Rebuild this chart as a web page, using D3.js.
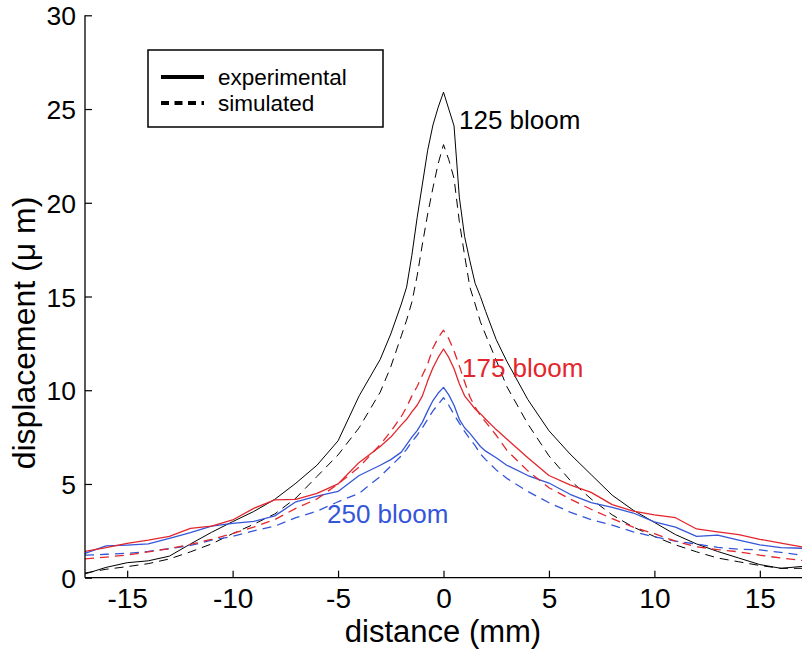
<!DOCTYPE html>
<html><head><meta charset="utf-8">
<script src="https://cdn.jsdelivr.net/npm/d3@7"></script>
<style>body{margin:0;background:#fff}svg{display:block}text{font-family:"Liberation Sans",Arial,sans-serif}</style>
</head><body><svg id="c" width="808" height="661"></svg>
<script>
const distance = [-17,-16,-15,-14,-13,-12,-11,-10,-9,-8,-7,-6,-5,-4,-3,-2.5,-2,-1.75,-1.5,-1.25,-1,-0.75,-0.5,-0.25,0,0.25,0.5,0.75,1,1.25,1.5,1.75,2,2.5,3,4,5,6,7,8,9,10,11,12,13,14,15,16,17];
const exp125 = [0.2,0.55,0.8,0.9,1.15,1.8,2.42,2.99,3.53,4.18,5.04,6.0,7.3,9.7,11.65,13.0,14.6,15.5,17.2,19.2,21.0,22.8,24.15,25.1,25.9,25.0,24.1,20.3,18.2,16.9,15.7,15.0,14.2,12.7,11.55,9.5,7.84,6.6,5.5,4.4,3.6,2.95,2.3,1.8,1.4,1.05,0.7,0.5,0.6];
const sim125 = [0.25,0.45,0.59,0.75,1.0,1.38,1.8,2.35,2.85,3.4,4.25,5.4,6.55,8.0,9.9,11.25,12.9,13.74,14.7,16.1,17.8,19.4,20.8,22.1,23.1,22.3,21.3,19.0,17.2,15.5,14.6,13.65,12.95,11.6,10.2,8.2,6.5,5.2,4.2,3.35,2.7,2.2,1.75,1.38,1.05,0.85,0.65,0.5,0.5];
const exp175 = [1.4,1.6,1.83,2.0,2.2,2.63,2.75,3.08,3.7,4.15,4.18,4.5,5.0,6.15,7.0,7.5,8.15,8.45,8.85,9.2,9.7,10.5,11.2,11.75,12.2,11.75,11.15,10.35,9.7,9.35,9.0,8.75,8.45,7.9,7.4,6.4,5.45,4.95,4.55,3.9,3.55,3.35,3.2,2.6,2.45,2.3,2.05,1.85,1.65];
const sim175 = [1.0,1.1,1.21,1.38,1.55,1.78,2.05,2.35,2.7,3.1,3.7,4.2,5.0,5.9,7.1,7.8,8.6,9.1,9.7,10.2,10.8,11.4,12.25,12.8,13.2,12.75,12.1,11.3,10.45,9.65,9.1,8.65,8.3,7.6,6.8,5.7,4.8,4.2,3.65,3.15,2.7,2.35,1.95,1.65,1.5,1.38,1.2,1.05,0.92];
const exp250 = [1.3,1.7,1.74,1.8,2.1,2.4,2.75,2.9,3.0,3.3,4.05,4.35,4.6,5.45,6.0,6.3,6.7,7.1,7.5,7.85,8.3,8.9,9.45,9.85,10.15,9.75,9.2,8.45,8.0,7.7,7.35,7.0,6.75,6.4,6.0,5.45,5.05,4.45,4.0,3.75,3.45,2.98,2.7,2.2,2.27,2.0,1.75,1.6,1.57];
const sim250 = [1.2,1.25,1.3,1.4,1.55,1.72,2.0,2.2,2.5,2.75,3.2,3.55,4.05,4.5,5.4,5.95,6.5,6.85,7.25,7.6,8.0,8.45,8.9,9.25,9.6,9.2,8.7,8.25,7.8,7.4,7.05,6.6,6.3,5.75,5.3,4.6,4.0,3.5,3.1,2.8,2.45,2.18,1.95,1.8,1.62,1.52,1.48,1.35,1.2];
const xTicks = [-15,-10,-5,0,5,10,15];
const yTicks = [0,5,10,15,20,25,30];
const seriesNames = ["125 bloom","175 bloom","250 bloom"];
const legendLabels = ["experimental","simulated"];

const svg = d3.select("#c");
const x = d3.scaleLinear().domain([-17,17]).range([85,802]);
const y = d3.scaleLinear().domain([0,30]).range([577.7,15.3]);

const series = [
  {v:sim125, c:"#000", dash:true, w:1},
  {v:exp125, c:"#000", dash:false, w:1},
  {v:sim250, c:"#3456d8", dash:true, w:1.3},
  {v:exp250, c:"#3456d8", dash:false, w:1.3},
  {v:sim175, c:"#e4262c", dash:true, w:1.3},
  {v:exp175, c:"#e4262c", dash:false, w:1.3}
];
const line = d3.line().x((d,i)=>x(distance[i])).y(d=>y(d));
svg.append("g").selectAll("path").data(series).join("path")
  .attr("d", d=>line(d.v)).attr("fill","none")
  .attr("stroke", d=>d.c).attr("stroke-width", d=>d.w)
  .attr("stroke-linejoin","round")
  .attr("stroke-dasharray", d=>d.dash?"9,6":null);

// axes
const gx = svg.append("g").attr("transform","translate(0,577.7)")
  .call(d3.axisBottom(x).tickValues(xTicks).tickSize(-7).tickPadding(10).tickFormat(d3.format("d")));
const gy = svg.append("g").attr("transform","translate(85,0)")
  .call(d3.axisLeft(y).tickValues(yTicks).tickSize(-7).tickPadding(9).tickFormat(d3.format("d")));
[gx,gy].forEach(g=>{
  g.select(".domain").attr("stroke","#000").attr("stroke-width",1.3).attr("d", g===gx ? "M85,0H802" : "M0,577.7V15.3");
  g.selectAll(".tick line").attr("stroke","#000").attr("stroke-width",1.2);
  g.selectAll("text").attr("fill","#000").attr("font-family","Liberation Sans, Arial, sans-serif");
});
gx.selectAll("text").attr("font-size",28).attr("dy","0.71em");
gy.selectAll("text").attr("font-size",26.5).attr("dy","0.36em");
gx.selectAll(".tick text").text(d=>d<0? "-"+Math.abs(d) : d);

svg.append("text").attr("x",443).attr("y",642).attr("text-anchor","middle")
  .attr("font-size",31).text("distance (mm)");
svg.append("text").attr("transform","translate(35,333) rotate(-90)").attr("text-anchor","middle")
  .attr("font-size",32).text("displacement (\u03bc m)");

// series labels
svg.append("text").attr("x",459).attr("y",129).attr("font-size",26).attr("fill","#000").text(seriesNames[0]);
svg.append("text").attr("x",462).attr("y",377).attr("font-size",26).attr("fill","#e4262c").text(seriesNames[1]);
svg.append("text").attr("x",327).attr("y",523).attr("font-size",26).attr("fill","#3456d8").text(seriesNames[2]);

// legend
const lg = svg.append("g");
lg.append("rect").attr("x",148).attr("y",50).attr("width",235).attr("height",77)
  .attr("fill","#fff").attr("stroke","#000").attr("stroke-width",1.5);
lg.selectAll("line").data(legendLabels).join("line")
  .attr("x1",161).attr("x2",204).attr("y1",(d,i)=>77+i*26).attr("y2",(d,i)=>77+i*26)
  .attr("stroke","#000").attr("stroke-width",4)
  .attr("stroke-dasharray",(d,i)=>i?"8,5.5":null);
lg.selectAll("text").data(legendLabels).join("text")
  .attr("x",218).attr("y",(d,i)=>85+i*26).attr("font-size",22.5).text(d=>d);
</script></body></html>
